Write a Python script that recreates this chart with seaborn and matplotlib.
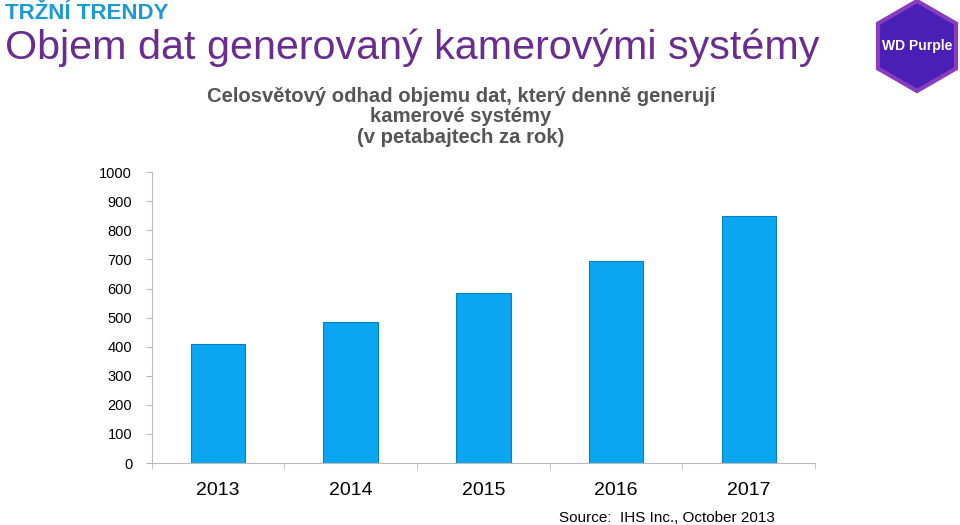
import numpy as np
import matplotlib.pyplot as plt
import pandas as pd
import seaborn as sns
from matplotlib.patches import RegularPolygon

plt.rcParams['font.family'] = 'Liberation Sans'

years = ['2013', '2014', '2015', '2016', '2017']
petabytes = [410, 486, 585, 695, 849]

df = pd.DataFrame({'year': years, 'pb': petabytes})

fig = plt.figure(figsize=(9.6, 5.25), dpi=100)
ax = fig.add_axes([0.158, 0.118, 0.691, 0.554])
sns.barplot(data=df, x='year', y='pb', color='#0aa6f0', width=0.41, ax=ax,
            edgecolor='#0a7fc0', linewidth=0.8, saturation=1)
ax.set_ylim(0, 1000)
ax.set_xlim(-0.5, 4.5)
ax.set_yticks(range(0, 1001, 100))
ax.set_xlabel('')
ax.set_ylabel('')
for s in ['top', 'right']:
    ax.spines[s].set_visible(False)
for s in ['left', 'bottom']:
    ax.spines[s].set_color('#bbbbbb')
ax.tick_params(axis='y', labelsize=10.5, length=4, color='#bbbbbb', pad=10)
ax.set_xticks(np.arange(-0.5, 4.6, 1), minor=True)
ax.tick_params(axis='x', which='major', length=0, labelsize=14, pad=14)
ax.tick_params(axis='x', which='minor', length=4, color='#bbbbbb')

fig.text(0.005, 0.995, 'TRŽNÍ TRENDY', color='#1a9ad6', fontsize=16, fontweight='bold', va='top')
fig.text(0.005, 0.945, 'Objem dat generovaný kamerovými systémy', color='#6a2c91', fontsize=29.7, va='top')
fig.text(0.48, 0.835, 'Celosvětový odhad objemu dat, který denně generují\nkamerové systémy\n(v petabajtech za rok)',
         ha='center', va='top', fontsize=14.6, fontweight='bold', color='#555555', linespacing=1.1)
fig.text(0.695, 0.0, 'Source:  IHS Inc., October 2013', ha='center', va='bottom', fontsize=11)

hexagon = RegularPolygon((9.17, 4.79), 6, radius=0.45, orientation=0,
                         transform=fig.dpi_scale_trans, facecolor='#4a1fb5',
                         edgecolor='#8a3cc0', linewidth=3)
fig.patches.append(hexagon)
fig.text(0.955, 0.912, 'WD Purple', ha='center', va='center', color='white', fontsize=10, fontweight='bold')

fig.savefig('out.png', dpi=100)
